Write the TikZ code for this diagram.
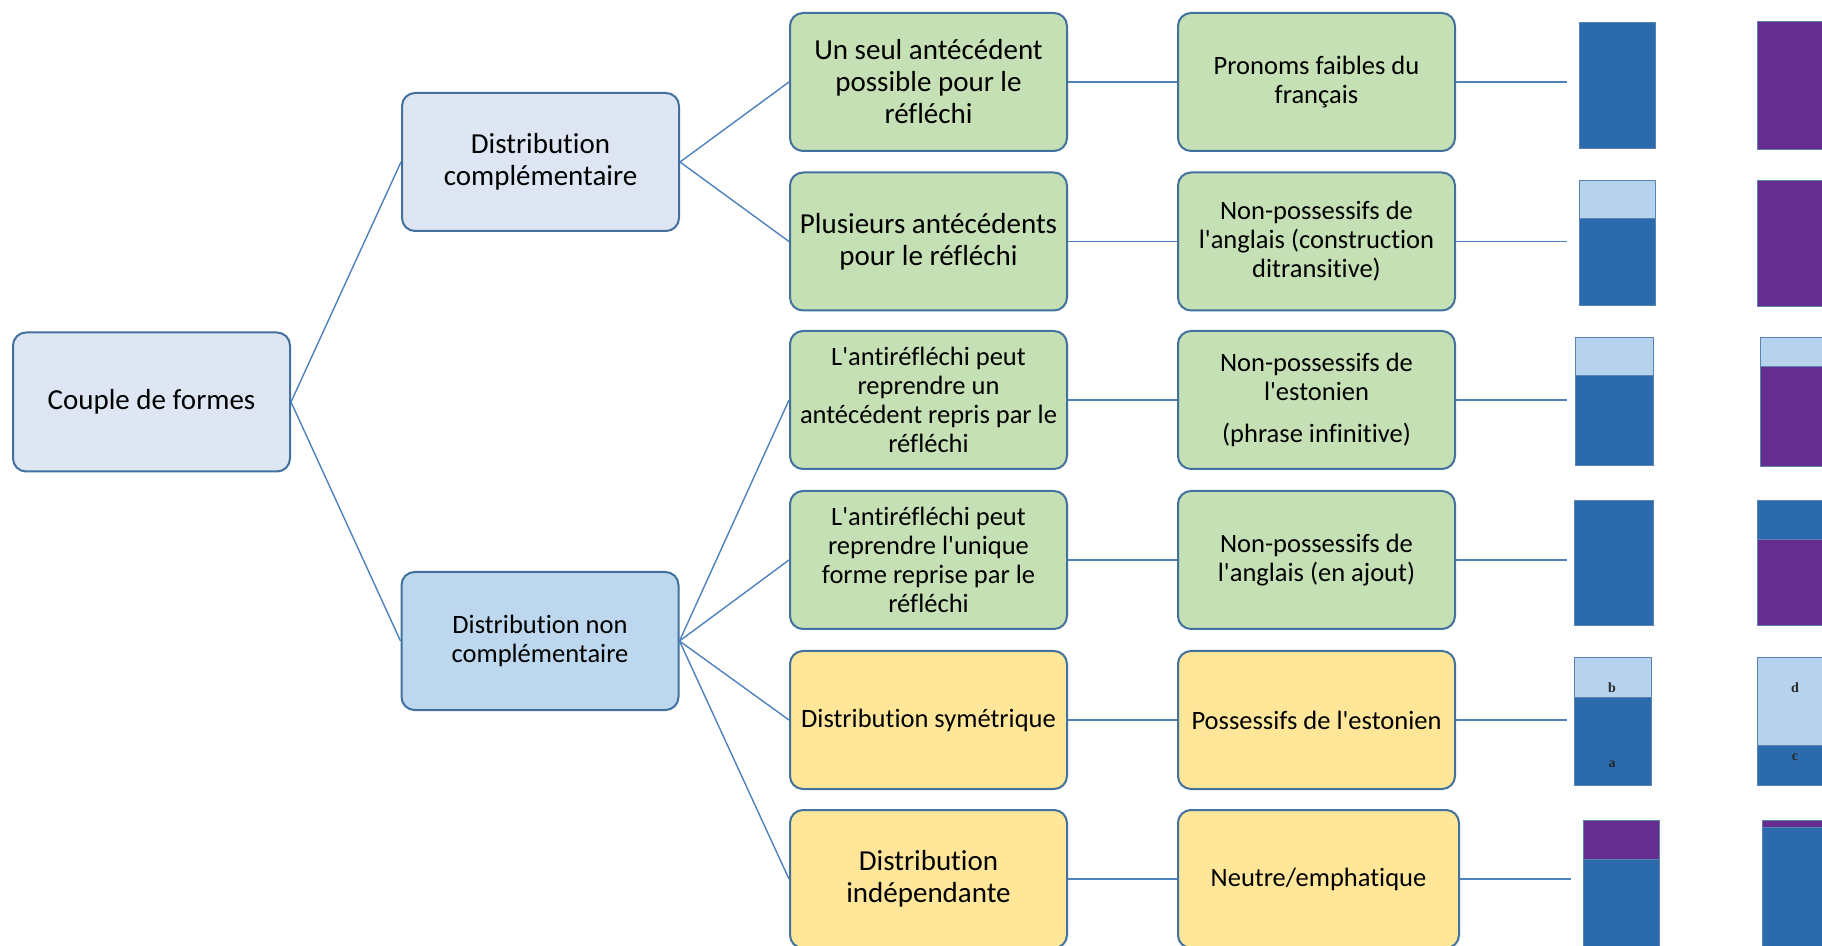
\documentclass[tikz,border=0pt]{standalone}
\usepackage{fontspec}
\setmainfont{Carlito}[Ligatures={TeX,NoCommon}]
\newfontfamily\labserif{Liberation Serif}
\definecolor{bordc}{HTML}{41719C}
\definecolor{linec}{HTML}{4F81BD}
\definecolor{lavc}{HTML}{DEE6F4}
\definecolor{bluec}{HTML}{BDD7EE}
\definecolor{greenc}{HTML}{C5E0B4}
\definecolor{yellowc}{HTML}{FFE699}
\definecolor{darkc}{HTML}{2B6BAD}
\definecolor{purpc}{HTML}{662D91}
\definecolor{lightc}{HTML}{B6D2EC}
\definecolor{barb}{HTML}{5A83B0}
\newcommand{\ap}{\textquotesingle}
\begin{document}
\begin{tikzpicture}[x=0.5pt,y=-0.5pt,
  box/.style={draw=bordc, line width=1pt, rounded corners=6.5pt, align=center, inner sep=0pt,
    minimum width=138.5pt, minimum height=69pt, text=black},
  big/.style={font=\fontsize{14.5pt}{16pt}\selectfont},
  small/.style={font=\fontsize{13.25pt}{14.5pt}\selectfont},
  conn/.style={draw=linec, line width=0.7pt},
  bar/.style={draw=barb, line width=0.5pt},
  lab/.style={font=\fontsize{7pt}{8pt}\selectfont\labserif\bfseries, inner sep=0pt, text=black!85}]
\clip (0,0) rectangle (1822,946);
\fill[white] (0,0) rectangle (1822,946);

% level 1-2
\node[box, fill=lavc, big, minimum height=69.5pt] (couple) at (151.5,402) {Couple de formes};
\node[box, fill=lavc, big] (dc) at (540.5,162) {Distribution\\complémentaire};
\node[box, fill=bluec, small] (dnc) at (540,641) {Distribution non\\complémentaire};

% column 3
\node[box, fill=greenc, big] (a1) at (928.5,82) {Un seul antécédent\\possible pour le\\réfléchi};
\node[box, fill=greenc, big] (a2) at (928.5,241.5) {Plusieurs antécédents\\pour le réfléchi};
\node[box, fill=greenc, small] (a3) at (928.5,400) {L\ap antiréfléchi peut\\reprendre un\\antécédent repris par le\\réfléchi};
\node[box, fill=greenc, small] (a4) at (928.5,560) {L\ap antiréfléchi peut\\reprendre l\ap unique\\forme reprise par le\\réfléchi};
\node[box, fill=yellowc, small] (a5) at (928.5,720) {Distribution symétrique};
\node[box, fill=yellowc, big] (a6) at (928.5,879) {Distribution\\indépendante};

% column 4
\node[box, fill=greenc, small] (b1) at (1316.5,82) {Pronoms faibles du\\français};
\node[box, fill=greenc, small] (b2) at (1316.5,241.5) {Non-possessifs de\\l\ap anglais (construction\\ditransitive)};
\node[box, fill=greenc, small] (b3) at (1316.5,400) {Non-possessifs de\\l\ap estonien\\[6.5pt](phrase infinitive)};
\node[box, fill=greenc, small] (b4) at (1316.5,560) {Non-possessifs de\\l\ap anglais (en ajout)};
\node[box, fill=yellowc, small] (b5) at (1316.5,720) {Possessifs de l\ap estonien};
\node[box, fill=yellowc, small, minimum width=140.5pt] (b6) at (1318.5,879) {Neutre/emphatique};

% free ends
\coordinate (e1) at (1567,82);
\coordinate (e2) at (1567,241.5);
\coordinate (e3) at (1567,400);
\coordinate (e4) at (1567,560);
\coordinate (e5) at (1567,720);
\coordinate (e6) at (1571,879);

% connectors
\draw[conn] (couple.east) -- (dc.west);
\draw[conn] (couple.east) -- (dnc.west);
\draw[conn] (dc.east) -- (a1.west);
\draw[conn] (dc.east) -- (a2.west);
\foreach \i in {3,4,5,6} \draw[conn] (dnc.east) -- (a\i.west);
\foreach \i in {1,...,6} {
  \draw[conn] (a\i.east) -- (b\i.west);
  \draw[conn] (b\i.east) -- (e\i);
}

% bars, row 1
\filldraw[bar, fill=darkc] (1579,23) rectangle (1655,149);
\filldraw[bar, fill=purpc] (1757,22) rectangle (1830,150);
% row 2
\filldraw[bar, fill=lightc] (1579,181) rectangle (1655,219);
\filldraw[bar, fill=darkc] (1579,219) rectangle (1655,306);
\filldraw[bar, fill=purpc] (1757,181) rectangle (1830,307);
% row 3
\filldraw[bar, fill=lightc] (1575,338) rectangle (1653,376);
\filldraw[bar, fill=darkc] (1575,376) rectangle (1653,466);
\filldraw[bar, fill=lightc] (1760,338) rectangle (1830,367);
\filldraw[bar, fill=purpc] (1760,367) rectangle (1830,467);
% row 4
\filldraw[bar, fill=darkc] (1574,501) rectangle (1653,626);
\filldraw[bar, fill=darkc] (1757,501) rectangle (1830,540);
\filldraw[bar, fill=purpc] (1757,540) rectangle (1830,626);
% row 5
\filldraw[bar, fill=lightc] (1574,658) rectangle (1651,697);
\filldraw[bar, fill=darkc] (1574,697) rectangle (1651,785);
\filldraw[bar, fill=lightc] (1757,658) rectangle (1830,745);
\filldraw[bar, fill=darkc] (1757,745) rectangle (1830,785);
\node[lab] (lb) at (1612,688) {b};
\node[lab] (la) at (1612,764) {a};
\node[lab] (ld) at (1795,688) {d};
\node[lab] (lc) at (1795,757) {c};
% row 6
\filldraw[bar, fill=purpc] (1583,820) rectangle (1659,859);
\filldraw[bar, fill=darkc] (1583,859) rectangle (1659,950);
\filldraw[bar, fill=purpc] (1762,820) rectangle (1830,827);
\filldraw[bar, fill=darkc] (1762,827) rectangle (1830,950);
\end{tikzpicture}
\end{document}
